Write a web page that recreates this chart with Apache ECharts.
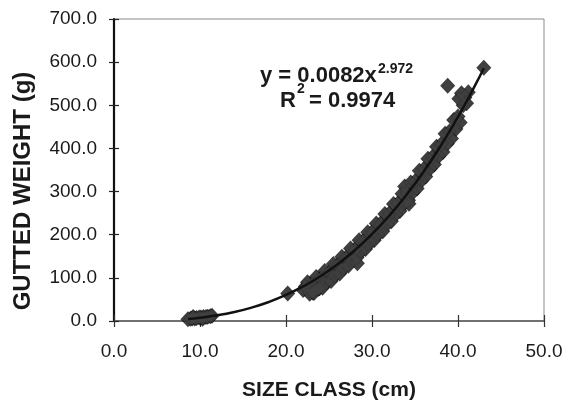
<!DOCTYPE html>
<html>
<head>
<meta charset="utf-8">
<script src="https://cdn.jsdelivr.net/npm/echarts@6/dist/echarts.min.js"></script>
<style>
html,body{margin:0;padding:0;background:#fff;}
#chart{width:571px;height:405px;}
</style>
</head>
<body>
<div id="chart"></div>
<script>
// Size class (cm) of each fish
const sizeClass = [
  8.6, 8.9, 9.1, 9.4, 9.6, 9.9, 10.1, 10.4, 10.7, 10.9, 11.2, 11.4, 9.2, 10.3,
  20.2,
  22.0, 22.25, 22.5, 22.75, 23.0, 23.25, 23.5, 23.75, 24.0, 24.25, 24.5, 24.75, 25.0, 25.25,
  25.5, 25.75, 26.0, 26.25, 26.5, 26.75, 27.0, 27.25, 27.5, 27.75, 28.0, 28.25, 28.5, 28.75,
  29.0, 29.25, 29.5, 29.75, 30.0, 30.25, 30.5, 30.75, 31.0, 31.25, 31.5, 31.75, 32.0, 32.25,
  32.5, 32.75, 33.0, 33.25, 33.5, 33.75, 34.0, 34.25, 34.5, 34.75, 35.0, 35.25, 35.5, 35.75,
  36.0, 36.25, 36.5, 36.75, 37.0, 37.25, 37.5, 37.75, 38.0, 38.25, 38.5, 38.75, 39.0, 39.25,
  39.5, 39.75, 40.0, 40.25,
  23.1, 23.9, 28.3, 33.8, 34.3,
  40.1, 40.4, 40.6, 40.8, 41.0, 41.2,
  38.8, 43.0
];
// Gutted weight (g) of each fish
const guttedWeight = [
  4, 5, 6, 6, 7, 8, 8, 9, 9, 10, 11, 12, 9, 5,
  64,
  72, 80, 90, 63, 86, 65, 102, 75, 98, 77, 116, 90, 113, 93,
  132, 106, 130, 110, 149, 123, 147, 128, 168, 142, 166, 147, 187, 161,
  186, 167, 206, 181, 206, 187, 226, 201, 226, 208, 248, 224, 249, 231,
  271, 247, 273, 255, 295, 272, 298, 280, 321, 298, 324, 307, 348, 325,
  352, 335, 376, 353, 380, 363, 404, 382, 409, 392, 434, 411, 439, 423,
  466, 445, 474, 460,
  66, 76, 134, 312, 272,
  515, 528, 500, 518, 505, 530,
  545, 587
];
// Fitted power trendline
const trendX = [8.6, 10, 12, 14, 16, 18, 20, 22, 24, 26, 28, 30, 32, 34, 36, 38, 40, 42, 43.0];
const trendY = [4.9, 7.7, 13.2, 20.9, 31.1, 44.1, 60.4, 80.2, 103.6, 131.6, 164.0, 201.2, 243.8, 292.1, 346.0, 406.5, 473.3, 546.8, 586];

const xTicks = [0, 10, 20, 30, 40, 50];
const yTicks = [0, 100, 200, 300, 400, 500, 600, 700];

const xTitle = 'SIZE CLASS (cm)';
const yTitle = 'GUTTED WEIGHT (g)';

const points = sizeClass.map((x, i) => [x, guttedWeight[i]]);
const trend = trendX.map((x, i) => [x, trendY[i]]);

const FONT = '"Liberation Sans", Arial, Helvetica, sans-serif';
const INK = '#1a1a1a';

const chart = echarts.init(document.getElementById('chart'), null, {renderer: 'canvas'});

const xBase = {
  type: 'value', gridIndex: 0, position: 'bottom', offset: 0,
  min: xTicks[0], max: xTicks[xTicks.length - 1], interval: 10,
  splitLine: {show: false}
};
const yBase = {
  type: 'value', gridIndex: 0, position: 'left', offset: 0,
  min: yTicks[0], max: yTicks[yTicks.length - 1], interval: 100,
  splitLine: {show: false}
};

chart.setOption({
  animation: false,
  backgroundColor: '#ffffff',
  grid: {
    left: 114, right: 27, top: 19, bottom: 84,
    containLabel: false,
    outerBoundsMode: 'none',
    show: true, borderColor: '#8a8a8a', borderWidth: 1, backgroundColor: 'transparent'
  },
  xAxis: [
    Object.assign({}, xBase, {
      name: xTitle,
      nameLocation: 'middle',
      nameGap: 59,
      nameTextStyle: {fontFamily: FONT, fontSize: 21, fontWeight: 'bold', color: INK},
      axisLine: {show: true, lineStyle: {color: '#555', width: 1.5}},
      axisTick: {show: true, inside: false, length: 6, lineStyle: {color: '#333', width: 1.2}},
      axisLabel: {
        show: true, margin: 21, fontFamily: FONT, fontSize: 19, color: INK,
        formatter: v => v.toFixed(1)
      }
    }),
    Object.assign({}, xBase, {
      axisLine: {show: false},
      axisTick: {show: true, inside: true, length: 6, lineStyle: {color: '#333', width: 1.2}},
      axisLabel: {show: false}
    })
  ],
  yAxis: [
    Object.assign({}, yBase, {
      name: yTitle,
      nameLocation: 'middle',
      nameGap: 79,
      nameTextStyle: {fontFamily: FONT, fontSize: 24, fontWeight: 'bold', color: INK, padding: [0, 42, 0, 0]},
      axisLine: {show: true, lineStyle: {color: '#111', width: 2.2}},
      axisTick: {show: true, inside: false, length: 5, lineStyle: {color: '#222', width: 1.2}},
      axisLabel: {
        show: true, margin: 17, fontFamily: FONT, fontSize: 19, color: INK,
        formatter: v => v.toFixed(1)
      }
    }),
    Object.assign({}, yBase, {
      axisLine: {show: false},
      axisTick: {show: true, inside: true, length: 5, lineStyle: {color: '#222', width: 1.2}},
      axisLabel: {show: false}
    })
  ],
  series: [
    {
      name: 'Fish outline',
      type: 'scatter',
      xAxisIndex: 0, yAxisIndex: 0,
      data: points,
      symbol: 'diamond',
      symbolSize: [15, 16],
      itemStyle: {color: '#0d0d0d', borderWidth: 0},
      z: 2
    },
    {
      name: 'Fish',
      type: 'scatter',
      xAxisIndex: 0, yAxisIndex: 0,
      data: points,
      symbol: 'diamond',
      symbolSize: [12, 13],
      itemStyle: {color: '#414141', borderWidth: 0},
      z: 3
    },
    {
      name: 'Power trend',
      type: 'line',
      xAxisIndex: 0, yAxisIndex: 0,
      data: trend,
      smooth: true,
      showSymbol: false,
      symbol: 'none',
      lineStyle: {color: '#111', width: 2.5},
      z: 4
    }
  ],
  graphic: [
    {type: 'text', z: 10, style: {text: 'y = 0.0082x', x: 260, y: 76, align: 'left', verticalAlign: 'middle',
      font: 'bold 22px ' + FONT, fill: INK}},
    {type: 'text', z: 10, style: {text: '2.972', x: 378, y: 69, align: 'left', verticalAlign: 'middle',
      font: 'bold 14px ' + FONT, fill: INK}},
    {type: 'text', z: 10, style: {text: 'R', x: 280, y: 101, align: 'left', verticalAlign: 'middle',
      font: 'bold 22px ' + FONT, fill: INK}},
    {type: 'text', z: 10, style: {text: '2', x: 297, y: 89, align: 'left', verticalAlign: 'middle',
      font: 'bold 14px ' + FONT, fill: INK}},
    {type: 'text', z: 10, style: {text: '= 0.9974', x: 309, y: 101, align: 'left', verticalAlign: 'middle',
      font: 'bold 22px ' + FONT, fill: INK}}
  ]
});
</script>
</body>
</html>
